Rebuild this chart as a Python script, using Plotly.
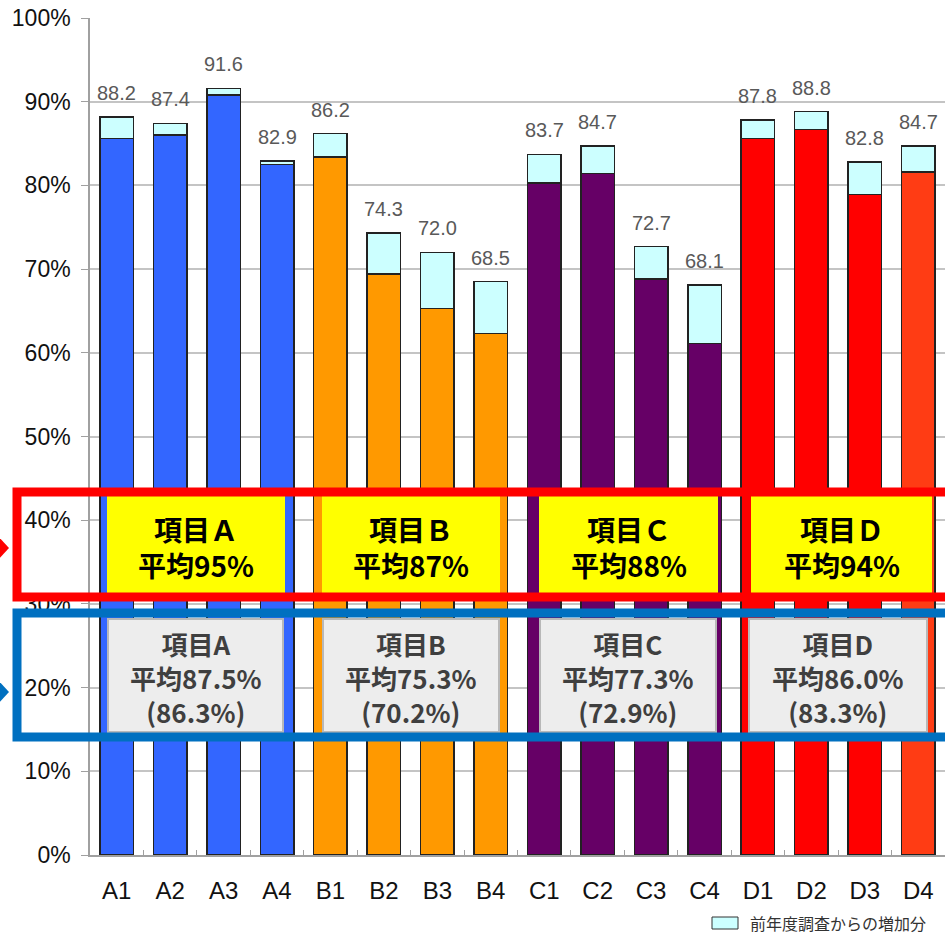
import plotly.graph_objects as go

# ---------------- data ----------------
categories = ["A1", "A2", "A3", "A4", "B1", "B2", "B3", "B4",
              "C1", "C2", "C3", "C4", "D1", "D2", "D3", "D4"]
totals = [88.2, 87.4, 91.6, 82.9, 86.2, 74.3, 72.0, 68.5,
          83.7, 84.7, 72.7, 68.1, 87.8, 88.8, 82.8, 84.7]
base_values = [85.6, 86.0, 90.8, 82.5, 83.4, 69.4, 65.3, 62.3,
               80.3, 81.4, 68.8, 61.1, 85.6, 86.7, 78.9, 81.6]
increments = [round(t - b, 1) for t, b in zip(totals, base_values)]
bar_colors = ["#3366FF"] * 4 + ["#FF9900"] * 4 + ["#660066"] * 4 + \
             ["#FF0000", "#FF0000", "#FF0000", "#FF3C14"]
increment_color = "#CCFFFF"
legend_label = "前年度調査からの増加分"

group_titles_yellow = ["項目Ａ<br>平均95%", "項目Ｂ<br>平均87%",
                       "項目Ｃ<br>平均88%", "項目Ｄ<br>平均94%"]
group_titles_gray = ["項目A<br>平均87.5%<br>(86.3%)", "項目B<br>平均75.3%<br>(70.2%)",
                     "項目C<br>平均77.3%<br>(72.9%)", "項目D<br>平均86.0%<br>(83.3%)"]

# ---------------- geometry helpers (pixels -> paper) ----------------
W, H = 945, 936
PL, PR, PT, PB = 90, 945, 18, 855


def px(x):
    return (x - PL) / (PR - PL)


def py(y):
    return (PB - y) / (PB - PT)


fig = go.Figure()
fig.add_trace(go.Bar(x=categories, y=base_values,
                     marker=dict(color=bar_colors, line=dict(color="#222222", width=1.5)),
                     showlegend=False, hoverinfo="skip"))
fig.add_trace(go.Bar(x=categories, y=increments, name=legend_label,
                     marker=dict(color=increment_color, line=dict(color="#222222", width=1.5)),
                     showlegend=False, hoverinfo="skip"))

annotations = []
for c, t in zip(categories, totals):
    annotations.append(dict(x=c, y=t, xref="x", yref="y", text=f"{t:.1f}",
                            showarrow=False, xanchor="center", yanchor="bottom", yshift=11,
                            font=dict(family="Liberation Sans, Arial", size=20, color="#595959")))

shapes = []
# yellow boxes and gray boxes
yellow_x = [(107, 285), (322, 500), (539, 718), (751, 932)]
gray_x = [(108, 283), (323, 499), (540, 716), (749, 927)]
for (x0, x1), txt in zip(yellow_x, group_titles_yellow):
    shapes.append(dict(type="rect", xref="paper", yref="paper",
                       x0=px(x0), x1=px(x1), y0=py(593), y1=py(496),
                       fillcolor="#FFFF00", line=dict(width=0), layer="above"))
    annotations.append(dict(x=px((x0 + x1) / 2), y=py(547), xref="paper", yref="paper",
                            text=f"<b>{txt}</b>", showarrow=False, align="center",
                            xanchor="center", yanchor="middle",
                            font=dict(family="Noto Sans CJK JP", size=28, color="#000000")))
for (x0, x1), txt in zip(gray_x, group_titles_gray):
    shapes.append(dict(type="rect", xref="paper", yref="paper",
                       x0=px(x0), x1=px(x1), y0=py(732), y1=py(619),
                       fillcolor="#EDEDED", line=dict(color="#B8B8B8", width=2), layer="above"))
    annotations.append(dict(x=px((x0 + x1) / 2), y=py(677), xref="paper", yref="paper",
                            text=f"<b>{txt}</b>", showarrow=False, align="center",
                            xanchor="center", yanchor="middle",
                            font=dict(family="Noto Sans CJK JP", size=26, color="#3F3F3F")))

# red and blue frames
shapes.append(dict(type="rect", xref="paper", yref="paper",
                   x0=px(17), x1=px(960), y0=py(597), y1=py(492),
                   line=dict(color="#FF0000", width=9), layer="above"))
shapes.append(dict(type="rect", xref="paper", yref="paper",
                   x0=px(17), x1=px(960), y0=py(737), y1=py(613),
                   line=dict(color="#0070C0", width=9), layer="above"))
# arrow tips on left
shapes.append(dict(type="path", xref="paper", yref="paper",
                   path=f"M {px(-2)} {py(536)} L {px(9)} {py(548)} L {px(-2)} {py(560)} Z",
                   fillcolor="#FF0000", line=dict(width=0), layer="above"))
shapes.append(dict(type="path", xref="paper", yref="paper",
                   path=f"M {px(-2)} {py(680)} L {px(9)} {py(692)} L {px(-2)} {py(704)} Z",
                   fillcolor="#0070C0", line=dict(width=0), layer="above"))

# legend
shapes.append(dict(type="rect", xref="paper", yref="paper",
                   x0=px(712), x1=px(738), y0=py(929), y1=py(917),
                   fillcolor=increment_color, line=dict(color="#333333", width=1), layer="above"))
annotations.append(dict(x=px(748), y=py(923), xref="paper", yref="paper",
                        text=legend_label, showarrow=False, xanchor="left", yanchor="middle",
                        font=dict(family="Noto Sans CJK JP", size=16, color="#333333")))

fig.update_layout(
    width=W, height=H, autosize=False,
    margin=dict(l=PL, r=W - PR, t=PT, b=H - PB),
    barmode="stack", bargap=0.374,
    plot_bgcolor="white", paper_bgcolor="white",
    shapes=shapes, annotations=annotations,
    showlegend=False,
)
fig.update_xaxes(type="category", showline=True, linecolor="#A0A0A0", linewidth=1.5,
                 ticks="inside", tickson="boundaries", ticklen=5, tickcolor="#A0A0A0",
                 ticklabelstandoff=13,
                 tickfont=dict(family="Liberation Sans, Arial", size=24, color="#111111"))
fig.update_yaxes(range=[0, 100], dtick=10, ticksuffix="%", showline=True,
                 linecolor="#A0A0A0", linewidth=1.5, ticks="outside", ticklen=7,
                 tickcolor="#A0A0A0", ticklabelstandoff=6,
                 showgrid=True, gridcolor="#C4C4C4", gridwidth=1.5, zeroline=False,
                 tickfont=dict(family="Liberation Sans, Arial", size=23, color="#111111"))

fig.write_html("out.html")
